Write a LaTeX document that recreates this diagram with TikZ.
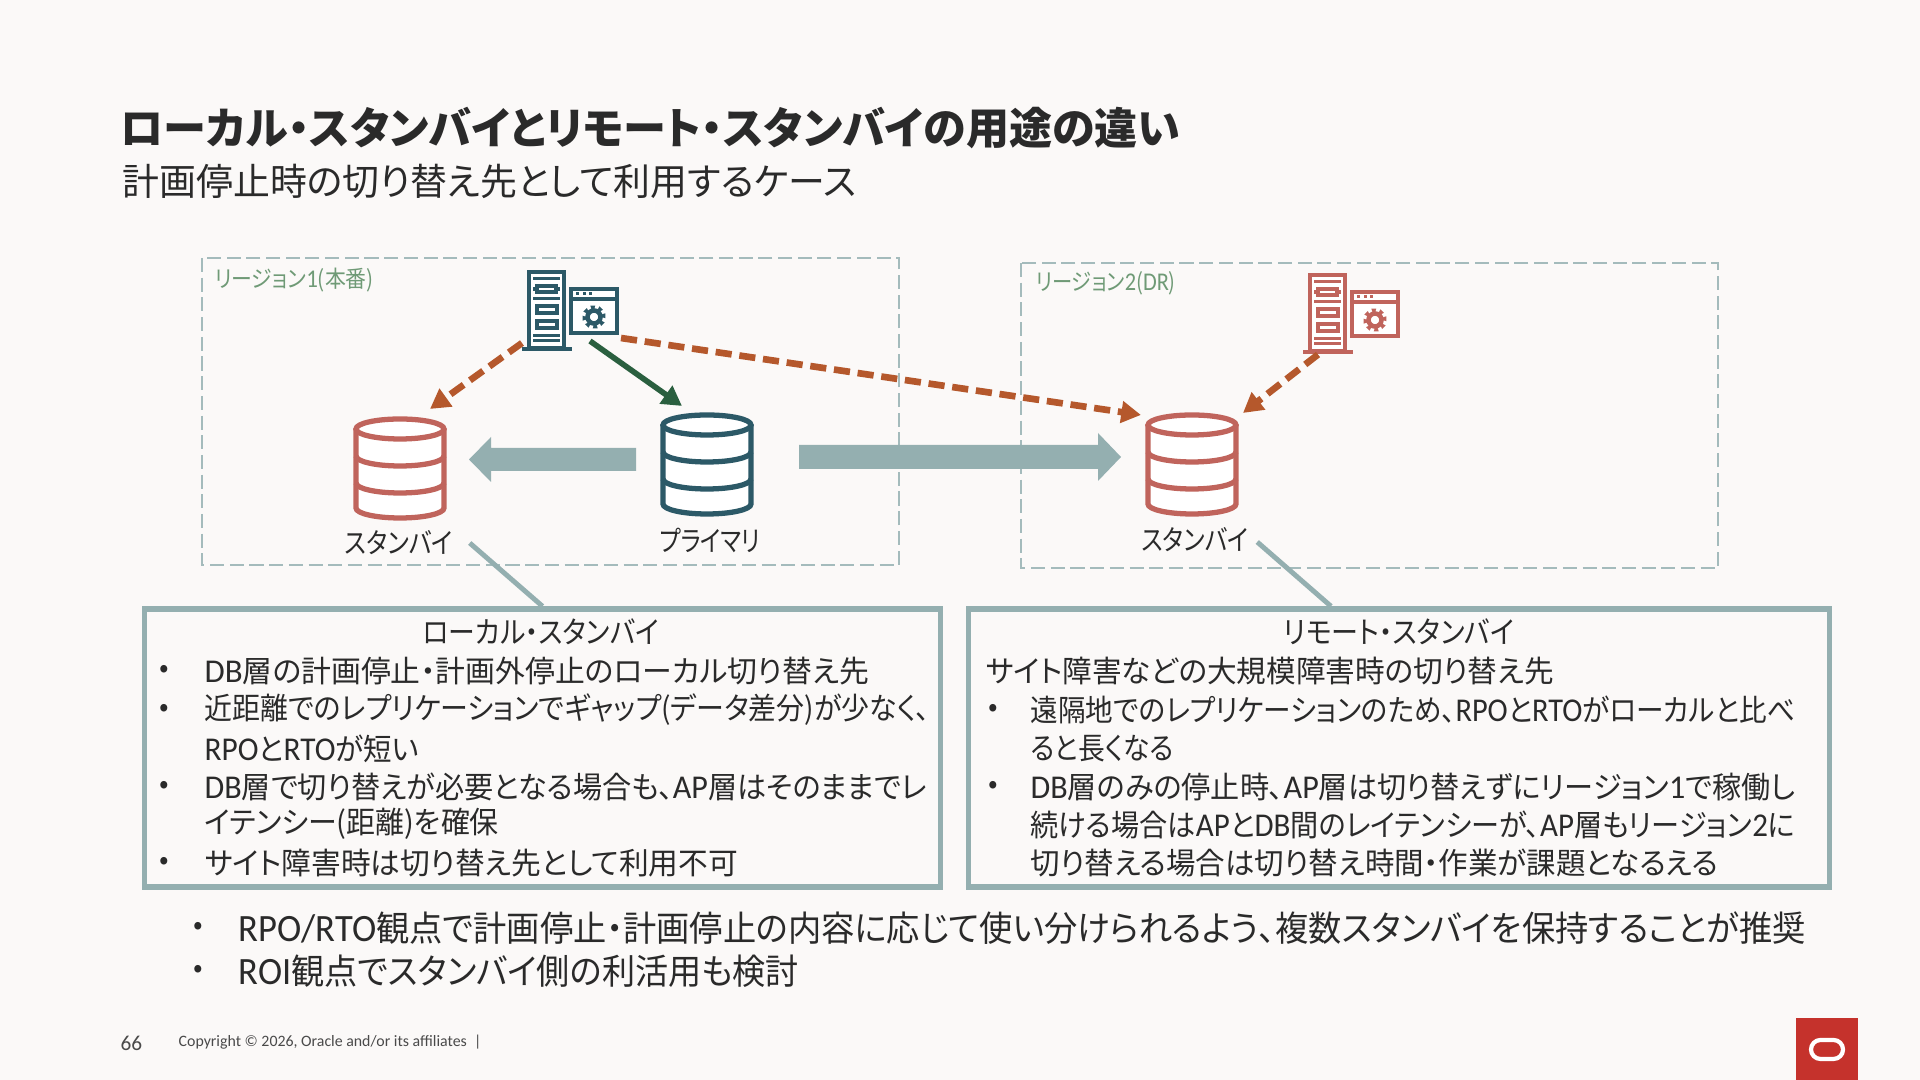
\documentclass[tikz,border=0pt]{standalone}
\usepackage{fontspec}
\usepackage{graphicx}
\setmainfont{Noto Sans CJK JP}[RawFeature=+palt]
\newfontfamily\latf{Carlito}[Scale=1.1]
\newcommand{\la}[1]{{\latf #1}}
% squeeze one line of text to a given width, height untouched
\newcommand{\fitw}[2]{\resizebox{#1}{\height}{#2}}
\usetikzlibrary{arrows.meta,calc}
\definecolor{pagebg}{HTML}{FBF9F8}
\definecolor{teal1}{HTML}{94AFB0}
\definecolor{navy1}{HTML}{2C5967}
\definecolor{red1}{HTML}{C0645C}
\definecolor{rust1}{HTML}{B5582C}
\definecolor{green1}{HTML}{2A5F3F}
\definecolor{regiongreen}{HTML}{6F9A76}
\definecolor{ink}{HTML}{2A2A2A}
\definecolor{oraclered}{HTML}{C5322C}
\tikzset{
  region/.style={draw=teal1!85,line width=0.6pt,dash pattern=on 4pt off 1.6pt},
  replarrow/.style={draw=none,fill=teal1},
  callout/.style={draw=teal1,line width=1.4pt},
  textbox/.style={draw=teal1,line width=1.5pt,inner sep=0pt},
  dasharrow/.style={draw=rust1,line width=1.9pt,dash pattern=on 4.6pt off 2.2pt,-{Triangle[width=6pt,length=5.6pt]}},
  linearrow/.style={draw=green1,line width=1.6pt,-{Triangle[width=6pt,length=5.6pt]}},
  iconspot/.style={inner sep=0pt,outer sep=0pt},
  bodytext/.style={anchor=west,inner sep=0pt,text=ink,font=\fontsize{8.6pt}{8.6pt}\selectfont},
  bullettext/.style={anchor=center,inner sep=0pt,text=ink,font=\fontsize{8pt}{8pt}\selectfont},
  bigtext/.style={anchor=west,inner sep=0pt,text=ink,font=\fontsize{10pt}{10pt}\selectfont},
  icontext/.style={inner sep=0pt,text=ink,font=\fontsize{8pt}{8pt}\selectfont},
  regiontext/.style={anchor=west,inner sep=0pt,text=regiongreen,font=\fontsize{6.6pt}{6.6pt}\selectfont},
  % database can, origin at top left of a 92x104 block
  dbicon/.pic={
    \fill[white] (2,13) -- (2,92) arc[x radius=44,y radius=10,start angle=180,end angle=0]
      -- (90,13) arc[x radius=44,y radius=10,start angle=0,end angle=-180] -- cycle;
    \draw[#1,line width=1.5pt] (46,13) ellipse[x radius=44,y radius=10];
    \draw[#1,line width=1.5pt] (2,13) -- (2,92) arc[x radius=44,y radius=10,start angle=180,end angle=0] -- (90,13);
    \draw[#1,line width=1.5pt] (2,40) arc[x radius=44,y radius=10,start angle=180,end angle=0];
    \draw[#1,line width=1.5pt] (2,67) arc[x radius=44,y radius=10,start angle=180,end angle=0];
  },
  % server tower plus gear window, origin at top left of the tower
  servericon/.pic={
    \draw[#1,line width=1.3pt,fill=white] (7,2) rectangle (42,78);
    \fill[#1] (0,77) rectangle (50,81);
    \foreach \yy in {9,29,66,71}{\fill[#1] (11,\yy-1.5) rectangle (38,\yy+1.5);}
    \draw[#1,line width=1pt] (15,16) rectangle (34,22);
    \draw[#1,line width=1pt] (11,19) -- (15,19) (34,19) -- (38,19);
    \draw[#1,line width=1pt] (15,36) rectangle (35,43);
    \draw[#1,line width=1pt] (15,51) rectangle (35,58);
    \draw[#1,line width=1.3pt,fill=white] (49,19) rectangle (95,63);
    \draw[#1,line width=1.1pt] (49,29) -- (95,29);
    \foreach \xx in {55,62,68}{\fill[#1] (\xx-1.5,22.5) rectangle (\xx+1.5,25.5);}
    \foreach \aa in {0,45,...,315}{\fill[#1] (72,47) ++(\aa-18:8) -- ++(\aa-18:4) -- ++(\aa+90:5) -- ++(\aa+198:4) -- cycle;}
    \draw[#1,line width=1.3pt] (72,47) circle[radius=6.5];
  },
}
\begin{document}
\begin{tikzpicture}[x=0.01cm,y=-0.01cm]
  % page
  \fill[pagebg] (0,0) rectangle (1920,1080);
  \useasboundingbox (0,0) rectangle (1920,1080);

  % Title
  \node[anchor=west,inner sep=0pt,text=ink,font=\fontsize{12.4pt}{12.4pt}\selectfont\bfseries] (title) at (120,128) {\fitw{10.59cm}{ローカル・スタンバイとリモート・スタンバイの用途の違い}};
  \node[anchor=west,inner sep=0pt,text=ink,font=\fontsize{10.6pt}{10.6pt}\selectfont] (subtitle) at (122,181) {\fitw{7.33cm}{計画停止時の切り替え先として利用するケース}};

  % Regions
  \draw[region] (202,258) rectangle (899,565);
  \draw[region] (1021,263) rectangle (1718,568);
  \node[regiontext] (regionL) at (214,280) {\fitw{1.59cm}{リージョン\la{1}(本番)}};
  \node[regiontext] (regionR) at (1035,283) {\fitw{1.40cm}{リージョン\la{2}(\la{DR})}};

  % Icons
  \node[iconspot,minimum width=0.96cm,minimum height=0.81cm] (apL) at (570,310.5) {};
  \node[iconspot,minimum width=0.96cm,minimum height=0.81cm] (apR) at (1351,314) {};
  \node[iconspot,minimum width=0.92cm,minimum height=1.04cm] (dbL) at (400,468) {};
  \node[iconspot,minimum width=0.92cm,minimum height=1.04cm] (dbP) at (707,464) {};
  \node[iconspot,minimum width=0.92cm,minimum height=1.04cm] (dbR) at (1192,464) {};
  \pic at (522,270) {servericon=navy1};
  \pic at (1303,273) {servericon=red1};
  \pic at (354,416) {dbicon=red1};
  \pic at (661,412) {dbicon=navy1};
  \pic at (1146,412) {dbicon=red1};

  % Labels under the cans
  \node[icontext] (stbyL) at (399,543) {\fitw{1.08cm}{スタンバイ}};
  \node[icontext] (prim) at (710,540) {\fitw{1.01cm}{プライマリ}};
  \node[icontext] (stbyR) at (1195,540) {\fitw{1.07cm}{スタンバイ}};

  % Replication arrows
  \fill[replarrow] (636,448) -- (491,448) -- (491,437) -- (469,459.5) -- (491,482) -- (491,471) -- (636,471) -- cycle;
  \fill[replarrow] (799,445) -- (1098,445) -- (1098,433) -- (1121,457) -- (1098,481) -- (1098,469) -- (799,469) -- cycle;

  % Connections
  \draw[dasharrow] ($(apL.south west)+(0,-8)$) -- ($(dbL.north)+(30,-7)$);
  \draw[linearrow] ($(apL.south)+(20,-10)$) -- ($(dbP.north)+(-25,-6)$);
  \draw[dasharrow] ($(apL.south east)+(3,-13)$) -- ($(dbR.north)+(-51,3)$);
  \draw[dasharrow] ($(apR.south)+(-33,0)$) -- ($(dbR.north)+(51,1)$);

  % Text boxes
  \node[textbox,minimum width=7.95cm,minimum height=2.78cm] (boxL) at (542.5,748) {};
  \node[textbox,minimum width=8.60cm,minimum height=2.78cm] (boxR) at (1399,748) {};
  \draw[callout] ($(stbyL.east)+(16,0)$) -- (boxL.north);
  \draw[callout] ($(stbyR.east)+(8,2)$) -- ($(boxR.north)+(-68,0)$);

  % Left box text
  \node[bodytext,anchor=center] (headL) at (541,632) {\fitw{2.36cm}{ローカル・スタンバイ}};
  \node[bullettext] (bl1) at (164,671) {•};
  \node[bodytext] (tl1) at (204,671) {\fitw{6.64cm}{\la{DB}層の計画停止・計画外停止のローカル切り替え先}};
  \node[bullettext] (bl2) at (164,710) {•};
  \node[bodytext] (tl2) at (204,710) {\fitw{7.25cm}{近距離でのレプリケーションでギャップ(データ差分)が少なく、}};
  \node[bodytext] (tl3) at (204,749) {\fitw{2.14cm}{\la{RPO}と\la{RTO}が短い}};
  \node[bullettext] (bl4) at (164,787) {•};
  \node[bodytext] (tl4) at (204,787) {\fitw{7.22cm}{\la{DB}層で切り替えが必要となる場合も、\la{AP}層はそのままでレ}};
  \node[bodytext] (tl5) at (204,824) {\fitw{2.94cm}{イテンシー(距離)を確保}};
  \node[bullettext] (bl6) at (164,863) {•};
  \node[bodytext] (tl6) at (204,863) {\fitw{5.33cm}{サイト障害時は切り替え先として利用不可}};

  % Right box text
  \node[bodytext,anchor=center] (headR) at (1399,632) {\fitw{2.30cm}{リモート・スタンバイ}};
  \node[bodytext] (tr1) at (985,671) {\fitw{5.68cm}{サイト障害などの大規模障害時の切り替え先}};
  \node[bullettext] (br2) at (993,710) {•};
  \node[bodytext] (tr2) at (1030,710) {\fitw{7.64cm}{遠隔地でのレプリケーションのため、\la{RPO}と\la{RTO}がローカルと比べ}};
  \node[bodytext] (tr3) at (1030,749) {\fitw{1.43cm}{ると長くなる}};
  \node[bullettext] (br4) at (993,787) {•};
  \node[bodytext] (tr4) at (1030,787) {\fitw{7.64cm}{\la{DB}層のみの停止時、\la{AP}層は切り替えずにリージョン\la{1}で稼働し}};
  \node[bodytext] (tr5) at (1030,825) {\fitw{7.64cm}{続ける場合は\la{AP}と\la{DB}間のレイテンシーが、\la{AP}層もリージョン\la{2}に}};
  \node[bodytext] (tr6) at (1030,863) {\fitw{6.87cm}{切り替える場合は切り替え時間・作業が課題となるえる}};

  % Bottom notes
  \node[bullettext] (bb1) at (198,928) {•};
  \node[bigtext] (note1) at (238,928) {\fitw{15.66cm}{\la{RPO/RTO}観点で計画停止・計画停止の内容に応じて使い分けられるよう、複数スタンバイを保持することが推奨}};
  \node[bullettext] (bb2) at (198,971) {•};
  \node[bigtext] (note2) at (238,971) {\fitw{5.60cm}{\la{ROI}観点でスタンバイ側の利活用も検討}};

  % Footer
  \node[anchor=west,inner sep=0pt,text=ink!85,font=\latf\fontsize{5.5pt}{5.5pt}\selectfont] (pageno) at (120,1043) {66};
  \node[anchor=west,inner sep=0pt,text=ink!85,font=\latf\fontsize{4.1pt}{4.1pt}\selectfont] (copyright) at (178,1042) {Copyright © 2026, Oracle and/or its affiliates \ |};
  \fill[oraclered] (1796,1018) rectangle (1858,1080);
  \draw[white,line width=1.2pt,rounded corners=2.7pt] (1811,1040) rectangle (1843,1059);
\end{tikzpicture}
\end{document}
